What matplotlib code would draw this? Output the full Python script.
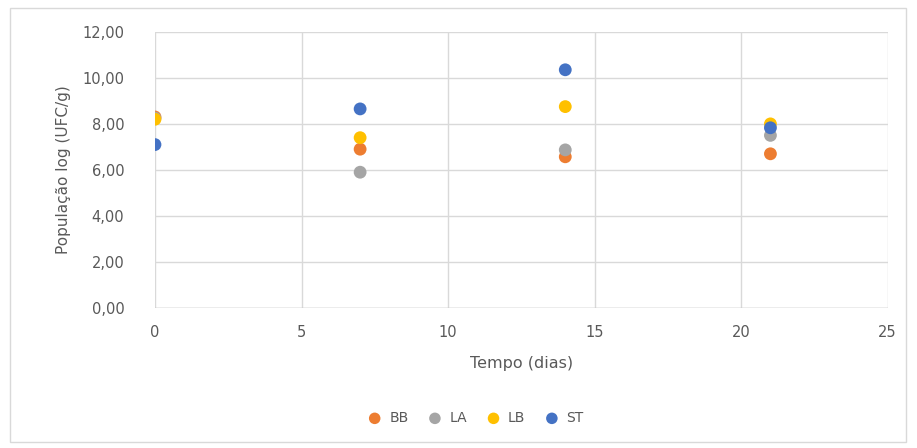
import matplotlib
matplotlib.use('Agg')
import matplotlib.pyplot as plt
from matplotlib.patches import Rectangle

days = [0, 7, 14, 21]
bb = [8.30, 6.90, 6.57, 6.70]
la = [8.25, 5.90, 6.87, 7.50]
lb = [8.20, 7.40, 8.75, 8.00]
st = [7.10, 8.65, 10.35, 7.83]

series = [('BB', bb, '#ED7D31'), ('LA', la, '#A5A5A5'),
          ('LB', lb, '#FFC000'), ('ST', st, '#4472C4')]

plt.rcParams['font.family'] = ['DejaVu Sans']
txt = '#595959'

fig = plt.figure(figsize=(9.17, 4.48), dpi=100, facecolor='white')
# outer chart frame
fig.patches.append(Rectangle((10 / 917, 6 / 448), 896 / 917, 434 / 448, transform=fig.transFigure,
                             fill=False, edgecolor='#D9D9D9', lw=1))
ax = fig.add_axes([0.169, 0.3125, 0.799, 0.6165])

for name, vals, col in series:
    ax.scatter(days, vals, s=85, color=col, label=name, zorder=3, edgecolors='none')

ax.set_xlim(0, 25)
ax.set_ylim(0, 12)
ax.set_xticks(range(0, 26, 5))
ax.set_yticks(range(0, 13, 2))
ax.yaxis.set_major_formatter(plt.FuncFormatter(lambda v, _: f"{v:.2f}".replace('.', ',')))
ax.grid(True, color='#D9D9D9', lw=1)
ax.set_axisbelow(True)
for s in ax.spines.values():
    s.set_visible(False)
ax.axhline(0, color='#BFBFBF', lw=1, zorder=1)
ax.tick_params(axis='y', length=0, colors=txt, labelsize=10.5, pad=22)
ax.tick_params(axis='x', length=0, colors=txt, labelsize=10.5, pad=12)
ax.set_xlabel('Tempo (dias)', color=txt, fontsize=11.5, labelpad=12)
ax.set_ylabel('População log (UFC/g)', color=txt, fontsize=11, labelpad=8)

leg = fig.legend(loc='center', bbox_to_anchor=(0.515, 0.067), ncol=4, frameon=False,
                 fontsize=10, handletextpad=0.05, columnspacing=0.9, markerscale=0.9)
for t in leg.get_texts():
    t.set_color(txt)

fig.savefig('out.png', dpi=100, facecolor='white')
